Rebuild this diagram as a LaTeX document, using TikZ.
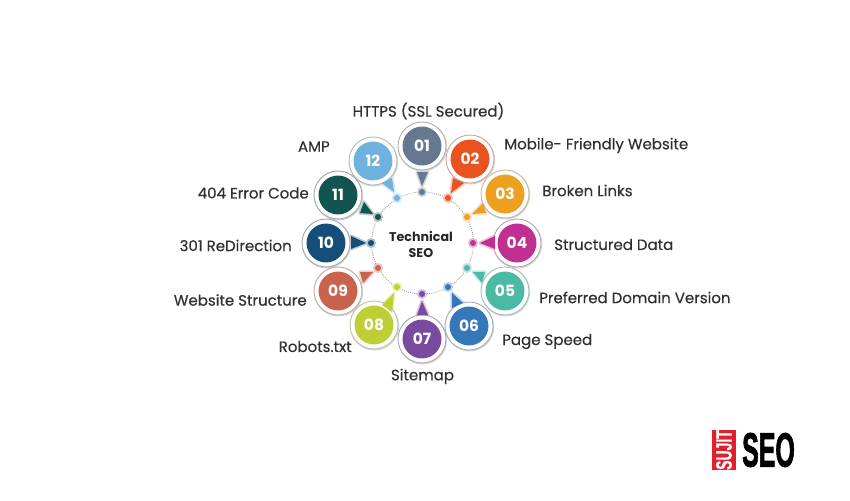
\documentclass[tikz,border=0pt]{standalone}
\usepackage{fontspec}
\usepackage{graphicx}
\setmainfont{Poppins}
\newfontfamily\labfont[FakeBold=0.35]{Poppins}
\newfontfamily\logofont[FakeBold=2.2]{Liberation Sans Bold}
\newfontfamily\logosmall[FakeBold=1]{Liberation Sans Bold}
\definecolor{labeltext}{HTML}{303030}
\definecolor{dotline}{HTML}{8A8A8A}
\definecolor{logored}{HTML}{E0202C}
\definecolor{cA}{HTML}{64798F}
\definecolor{cB}{HTML}{E9531F}
\definecolor{cC}{HTML}{EEA021}
\definecolor{cD}{HTML}{C22F92}
\definecolor{cE}{HTML}{4BB9A4}
\definecolor{cF}{HTML}{3577B9}
\definecolor{cG}{HTML}{7A4A9F}
\definecolor{cH}{HTML}{BDCF34}
\definecolor{cI}{HTML}{C9634D}
\definecolor{cJ}{HTML}{154F79}
\definecolor{cK}{HTML}{12544F}
\definecolor{cL}{HTML}{6FB2DE}
\tikzset{
  x=0.75pt,y=-0.75pt,
  lab/.style={font=\labfont\fontsize{11.25pt}{13pt}\selectfont,text=labeltext,inner sep=0pt},
  num/.style={font=\fontsize{11.6pt}{12pt}\selectfont\bfseries,text=white,inner sep=0pt},
  hub/.style={font=\fontsize{9.5pt}{12pt}\selectfont\bfseries,text=black!85,align=center,inner sep=0pt},
}
\begin{document}
\begin{tikzpicture}
\useasboundingbox (0,0) rectangle (850,500);
\fill[white] (0,0) rectangle (850,500);
\draw[dotline,line width=0.6pt,densely dotted] (422.5,243) circle [radius=51];
\node[hub] (hub) at (421,244) {Technical\\SEO};
\foreach \n/\bx/\by/\dx/\dy/\ax/\ay/\px/\py/\qx/\qy/\c in {
 12/373/161/397/198/394/192/382/183/392/178/cL,
 11/338/195/378/217/373/214/364/202/360/213/cK,
 10/326/243/371/243/366/243/351/236/351/249/cJ,
 09/338/291/378/268/373/272/360/272/363/283/cI,
 08/374/325/397/287/394/293/382/305/392/312/cH,
 07/422/339/422/294/422/301/417/315/428/315/cG,
 06/469/326/448/287/452/293/452/308/463/303/cF,
 05/505/291/467/268/473/272/485/272/482/283/cE,
 04/517/243/473/243/480/243/495/236/495/249/cD,
 03/505/194/467/217/472/214/483/203/486/213/cC,
 02/470/159/448/198/451/193/453/178/464/183/cB,
 01/422/146/422/192/422/186/417/172/428/172/cA}{
  \fill[\c!35] (\dx,\dy) circle [radius=5];
  \fill[\c] (\dx,\dy) circle [radius=3];
  \draw[\c!30,fill=white,line width=2.4pt,line join=round] (\ax,\ay) -- (\px,\py) -- (\qx,\qy) -- cycle;
  \fill[black!16] (\bx+0.6,\by+0.9) circle [radius=24.6];
  \draw[\c!50!black!40,fill=white,line width=0.7pt] (\bx,\by) circle [radius=24];
  \fill[\c] (\ax,\ay) -- (\px,\py) -- (\qx,\qy) -- cycle;
  \node[circle,fill=\c,minimum size=29.2pt,inner sep=0pt,num] (b\n) at (\bx,\by) {\n};
}
\node[lab] (l01) at (428.5,111) {HTTPS (SSL Secured)};
\node[lab,anchor=west] (l02) at (504,145.5) {Mobile- Friendly Website};
\node[lab,anchor=west] (l03) at (542,190.5) {Broken Links};
\node[lab,anchor=west] (l04) at (554,244.5) {Structured Data};
\node[lab,anchor=west] (l05) at (539,297.5) {Preferred Domain Version};
\node[lab,anchor=west] (l06) at (502,341.5) {Page Speed};
\node[lab] (l07) at (422.5,376.5) {Sitemap};
\node[lab,anchor=east] (l08) at (352,346.5) {Robots.txt};
\node[lab,anchor=east] (l09) at (307,300) {Website Structure};
\node[lab,anchor=east] (l10) at (292,245.5) {301 ReDirection};
\node[lab,anchor=east] (l11) at (309,193) {404 Error Code};
\node[lab,anchor=east] (l12) at (330,146.5) {AMP};
\node[fill=logored,minimum width=18pt,minimum height=30pt,inner sep=0pt] (logobox) at (724,450) {};
\node[rotate=90,text=white,inner sep=0pt,font=\logosmall\fontsize{10.5pt}{11pt}\selectfont] (logotxt) at (724,450) {\scalebox{1.0}[1.6]{SUJIT}};
\node[inner sep=0pt,text=black,font=\logofont\fontsize{36pt}{38pt}\selectfont] (logoseo) at (768.5,450) {\scalebox{0.52}[1]{SEO}};
\end{tikzpicture}
\end{document}
